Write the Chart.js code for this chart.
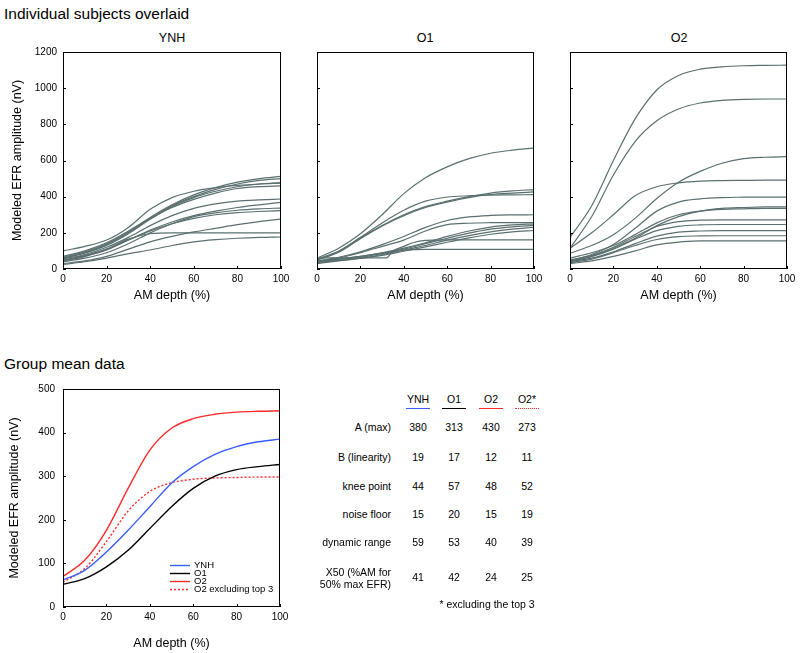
<!DOCTYPE html>
<html>
<head>
<meta charset="utf-8">
<script src="https://cdn.jsdelivr.net/npm/chart.js@4.4.1/dist/chart.umd.min.js"></script>
<style>
  body { margin: 0; width: 800px; height: 653px; position: relative; overflow: hidden; background: #fff;
         font-family: "Liberation Sans", Arial, sans-serif; color: #000; }
  canvas, .t { position: absolute; }
  .t { white-space: nowrap; line-height: 1; }
  .c { transform: translateX(-50%); text-align: center; }
  .r { transform: translateX(-100%); text-align: right; }
  .sec { font-size: 15.5px; }
  .pan { font-size: 12.5px; }
  .tab { font-size: 10.5px; }
  .leg { font-size: 9.5px; }
  .line { position: absolute; height: 0; }
</style>
</head>
<body>
<div class="t sec" style="left:4px; top:6px">Individual subjects overlaid</div>
<div class="t pan c" style="left:172px; top:32px">YNH</div>
<div class="t pan c" style="left:425px; top:32px">O1</div>
<div class="t pan c" style="left:679px; top:32px">O2</div>
<div class="t sec" style="left:4px; top:356px">Group mean data</div>

<canvas id="ynh" width="295" height="270" style="left:0; top:40px"></canvas>
<canvas id="o1" width="248" height="270" style="left:300px; top:40px"></canvas>
<canvas id="o2" width="247" height="270" style="left:553px; top:40px"></canvas>
<canvas id="group" width="295" height="276" style="left:0; top:377px"></canvas>

<script>
const depth = [0, 10, 20, 30, 40, 50, 60, 70, 80, 90, 100];

// individual subjects, modeled EFR amplitude (nV)
const ynhSubjects = [
  [100, 125, 160, 230, 330, 395, 430, 450, 462, 470, 475],
  [65, 95, 140, 205, 285, 355, 410, 450, 480, 500, 512],
  [60, 90, 135, 200, 280, 350, 400, 440, 470, 490, 500],
  [70, 100, 145, 210, 280, 340, 385, 420, 445, 455, 460],
  [55, 80, 120, 175, 240, 295, 335, 360, 375, 382, 387],
  [45, 70, 105, 160, 215, 260, 295, 320, 340, 355, 369],
  [40, 60, 90, 140, 200, 250, 290, 310, 325, 333, 337],
  [50, 75, 110, 160, 210, 250, 280, 300, 312, 318, 323],
  [30, 45, 70, 110, 150, 180, 205, 225, 245, 262, 276],
  [45, 70, 110, 165, 195, 200, 200, 200, 200, 200, 200],
  [25, 40, 60, 85, 105, 130, 150, 162, 170, 175, 177],
  [60, 88, 130, 195, 275, 345, 395, 430, 455, 470, 478]
];

const o1Subjects = [
  [60, 115, 195, 300, 417, 505, 565, 610, 640, 657, 669],
  [55, 100, 175, 255, 325, 375, 398, 405, 409, 410, 411],
  [50, 95, 170, 240, 300, 345, 375, 400, 420, 432, 439],
  [50, 93, 168, 238, 295, 340, 370, 395, 412, 420, 426],
  [45, 65, 95, 135, 180, 230, 268, 288, 296, 299, 300],
  [40, 60, 90, 125, 160, 210, 245, 253, 256, 257, 257],
  [45, 55, 70, 90, 115, 145, 180, 210, 232, 244, 250],
  [40, 52, 65, 85, 110, 140, 170, 198, 220, 233, 241],
  [35, 48, 60, 80, 105, 130, 160, 185, 205, 220, 231],
  [30, 45, 58, 75, 98, 122, 148, 172, 192, 205, 213],
  [45, 55, 70, 88, 104, 109, 109, 109, 109, 109, 109]
];
// one O1 subject has a step near 33% AM
const o1StepDepth = [0, 10, 20, 30, 32, 35, 40, 45, 50, 55, 60, 70, 80, 90, 100];
const o1StepSubject = [62, 62, 62, 62, 62, 100, 125, 148, 158, 160, 161, 161, 161, 161, 161];

const o2Subjects = [
  [175, 350, 600, 830, 990, 1070, 1105, 1118, 1124, 1126, 1127],
  [115, 290, 520, 705, 820, 885, 918, 932, 938, 940, 940],
  [87, 130, 190, 280, 390, 480, 540, 585, 610, 618, 621],
  [115, 200, 300, 405, 455, 476, 486, 489, 490, 491, 491],
  [45, 80, 135, 225, 320, 370, 388, 395, 397, 398, 398],
  [40, 70, 115, 170, 240, 290, 320, 335, 340, 343, 344],
  [60, 90, 130, 190, 255, 300, 320, 330, 333, 335, 335],
  [50, 75, 120, 180, 235, 262, 270, 272, 272, 272, 272],
  [45, 70, 110, 165, 212, 236, 244, 246, 246, 246, 246],
  [40, 60, 95, 140, 182, 204, 210, 212, 212, 212, 212],
  [35, 55, 90, 130, 163, 179, 183, 184, 184, 184, 184],
  [30, 45, 70, 100, 133, 149, 155, 156, 156, 156, 156]
];

// group means
const groupYNH = [62, 84, 126, 176, 230, 284, 322, 350, 368, 379, 385];
const groupO1 = [52, 65, 92, 130, 180, 230, 272, 300, 315, 322, 327];
const groupO2 = [70, 107, 176, 272, 360, 410, 432, 442, 447, 449, 450];
const groupO2Excl = [57, 88, 150, 220, 265, 285, 293, 296, 297, 298, 298];
const groupLabels = ['YNH', 'O1', 'O2', 'O2 excluding top 3'];

// table
const tableGroups = ['YNH', 'O1', 'O2', 'O2*'];
const tableRows = ['A (max)', 'B (linearity)', 'knee point', 'noise floor', 'dynamic range', 'X50 (%AM for<br>50% max EFR)'];
const tableValues = [
  [380, 313, 430, 273],
  [19, 17, 12, 11],
  [44, 57, 48, 52],
  [15, 20, 15, 19],
  [59, 53, 40, 39],
  [41, 42, 24, 25]
];

const FONT = '"Liberation Sans", Arial, sans-serif';
const GRAY = '#5b6f6f';
const BLUE = '#3a5cff';
const RED = '#ff2a2a';

Chart.defaults.font.family = FONT;
Chart.defaults.color = '#000';

const frame = {
  id: 'frame',
  afterDatasetsDraw(chart) {
    const { ctx, chartArea: a, scales } = chart;
    ctx.save();
    ctx.strokeStyle = '#000';
    ctx.lineWidth = 1;
    ctx.strokeRect(a.left + 0.5, a.top + 0.5, a.right - a.left - 1, a.bottom - a.top - 1);
    ctx.beginPath();
    scales.x.ticks.forEach(t => {
      const px = Math.round(scales.x.getPixelForValue(t.value)) + 0.5;
      ctx.moveTo(px, a.bottom);
      ctx.lineTo(px, a.bottom - 3);
    });
    scales.y.ticks.forEach(t => {
      const py = Math.round(scales.y.getPixelForValue(t.value)) + 0.5;
      ctx.moveTo(a.left, py);
      ctx.lineTo(a.left + 3, py);
    });
    ctx.stroke();
    ctx.restore();
  }
};

// line samples for the group legend, drawn with each dataset's own style
const legendLines = {
  id: 'legendLines',
  afterDatasetsDraw(chart, args, opts) {
    if (!opts.show) return;
    const { ctx, chartArea: a } = chart;
    ctx.save();
    chart.data.datasets.forEach((ds, i) => {
      const y = a.bottom - 42 + i * 8 + 0.5;
      ctx.strokeStyle = ds.borderColor;
      ctx.lineWidth = 1.4;
      ctx.setLineDash(ds.borderDash);
      ctx.beginPath();
      ctx.moveTo(a.left + 107, y);
      ctx.lineTo(a.left + 127, y);
      ctx.stroke();
    });
    ctx.restore();
  }
};

function curve(xs, ys, color, width, dash) {
  return {
    data: xs.map((x, i) => ({ x: x, y: ys[i] })),
    borderColor: color,
    borderWidth: width,
    borderDash: dash || [],
    pointRadius: 0,
    fill: false,
    cubicInterpolationMode: 'monotone'
  };
}

function makeChart(id, datasets, o) {
  new Chart(document.getElementById(id), {
    type: 'line',
    data: { datasets: datasets },
    plugins: [frame, legendLines],
    options: {
      responsive: false,
      animation: false,
      layout: { padding: { top: 12, right: o.right, left: 0, bottom: 0 } },
      plugins: { legend: { display: false }, tooltip: { enabled: false }, legendLines: { show: !!o.legend } },
      scales: {
        x: {
          type: 'linear', min: 0, max: 100,
          ticks: { stepSize: 20, font: { size: 10 }, padding: 4, maxRotation: 0, callback: v => String(v) },
          grid: { display: false, drawTicks: false },
          border: { display: false },
          title: { display: true, text: 'AM depth (%)', font: { size: 12.5 }, padding: { top: 0, bottom: o.xTitlePad } },
          afterFit(s) { s.height = o.xh; s.paddingLeft = 0; s.paddingRight = 0; }
        },
        y: {
          min: 0, max: o.ymax,
          ticks: { stepSize: o.ystep, font: { size: 10 }, padding: o.yPad, display: o.yLabels, callback: v => String(v) },
          grid: { display: false, drawTicks: false },
          border: { display: false },
          title: { display: o.yLabels, text: 'Modeled EFR amplitude (nV)', font: { size: 12.5 }, padding: { top: o.yTitlePad, bottom: 0 } },
          afterFit(s) { s.width = o.yw; s.paddingTop = 0; s.paddingBottom = 0; }
        }
      }
    }
  });
}

const topOpts = { ymax: 1200, ystep: 200, xh: 41, xTitlePad: 7, yTitlePad: 10, yPad: 6 };

makeChart('ynh', ynhSubjects.map(s => curve(depth, s, GRAY, 1.2)),
  Object.assign({}, topOpts, { right: 14, yw: 63, yLabels: true }));

makeChart('o1', o1Subjects.map(s => curve(depth, s, GRAY, 1.2))
    .concat([curve(o1StepDepth, o1StepSubject, GRAY, 1.2)]),
  Object.assign({}, topOpts, { right: 14, yw: 17, yLabels: false }));

makeChart('o2', o2Subjects.map(s => curve(depth, s, GRAY, 1.2)),
  Object.assign({}, topOpts, { right: 13, yw: 17, yLabels: false }));

makeChart('group', [
  curve(depth, groupYNH, BLUE, 1.4),
  curve(depth, groupO1, '#000', 1.4),
  curve(depth, groupO2, RED, 1.4),
  curve(depth, groupO2Excl, RED, 1.4, [2, 2])
], { ymax: 500, ystep: 100, xh: 46, xTitlePad: 2, yTitlePad: 7, yPad: 8, right: 15, yw: 63, yLabels: true, legend: true });

// legend text of the group panel
let html = '';
groupLabels.forEach((label, i) => {
  html += `<div class="t leg" style="left:194px; top:${560 + i * 8}px">${label}</div>`;
});

// table of fitted parameters
const colX = [418, 454, 491, 527];
const lineStyle = [['solid', BLUE], ['solid', '#000'], ['solid', RED], ['dotted', RED]];
tableGroups.forEach((g, j) => {
  html += `<div class="t tab c" style="left:${colX[j]}px; top:394px">${g}</div>`;
  html += `<div class="line" style="left:${colX[j] - 12}px; top:408px; width:24px; border-top:1.5px ${lineStyle[j][0]} ${lineStyle[j][1]}"></div>`;
});
const rowY = [428, 458, 487, 515, 543, 578];
tableRows.forEach((r, i) => {
  const twoLines = r.indexOf('<br>') >= 0;
  html += `<div class="t tab r" style="left:391px; top:${rowY[i] - (twoLines ? 12 : 6)}px; line-height:${twoLines ? 12 : 10}px">${r}</div>`;
  tableValues[i].forEach((v, j) => {
    html += `<div class="t tab c" style="left:${colX[j]}px; top:${rowY[i] - 6}px">${v}</div>`;
  });
});
html += `<div class="t tab c" style="left:487px; top:599px">* excluding the top 3</div>`;
document.body.insertAdjacentHTML('beforeend', html);
</script>
</body>
</html>
